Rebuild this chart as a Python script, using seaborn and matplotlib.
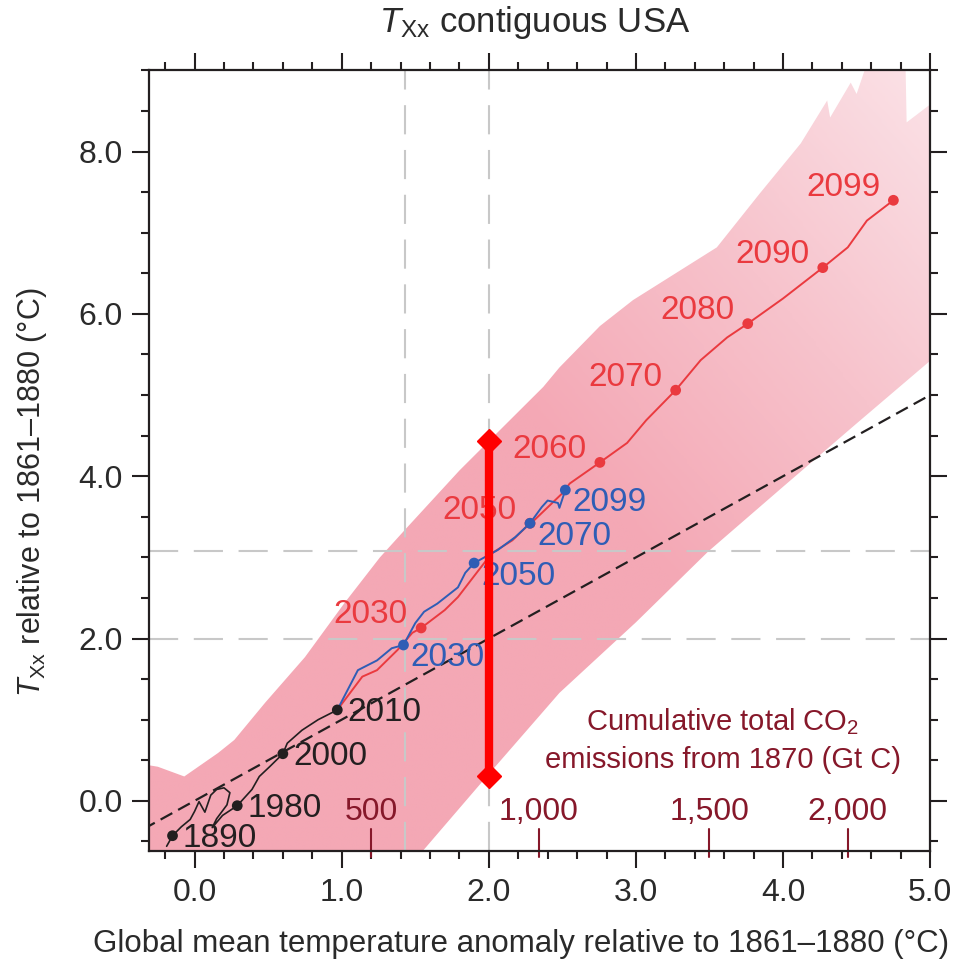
import numpy as np
import pandas as pd
import matplotlib.pyplot as plt
import seaborn as sns
from matplotlib.patches import Polygon
from matplotlib.ticker import MultipleLocator
from matplotlib.colors import LinearSegmentedColormap

sns.set_style('ticks')
plt.rcParams['font.family'] = ['Liberation Sans', 'DejaVu Sans']
plt.rcParams['mathtext.fontset'] = 'custom'
plt.rcParams['mathtext.rm'] = 'Liberation Sans'
plt.rcParams['mathtext.it'] = 'Liberation Sans:italic'

# ---- data ----
# model spread (shaded band)
band_upper_x = [-0.35, -0.25, -0.07, 0.16, 0.27, 0.48, 0.75, 1.02, 1.26, 1.43, 1.80, 2.01, 2.37,
                2.48, 2.755, 2.98, 3.55, 3.84, 4.12, 4.30, 4.32, 4.46, 4.50, 4.61, 4.83, 4.84, 5.05]
band_upper_y = [0.45, 0.42, 0.30, 0.59, 0.75, 1.21, 1.77, 2.44, 3.00, 3.34, 4.07, 4.45, 5.10,
                5.34, 5.85, 6.17, 6.82, 7.48, 8.10, 8.63, 8.42, 8.85, 8.71, 9.30, 9.30, 8.36, 8.65]
band_lower_x = [-0.35, 1.45, 1.55, 2.00, 2.48, 3.00, 3.49, 4.00, 4.50, 5.05]
band_lower_y = [-1.00, -0.85, -0.62, 0.33, 1.33, 2.20, 3.07, 3.87, 4.65, 5.50]

# observed / historical (black)
hist_x = [-0.19, -0.15, -0.09, -0.03, 0.00, 0.03, 0.07, 0.11, 0.15, 0.20, 0.24, 0.22, 0.15,
          0.12, 0.19, 0.29, 0.39, 0.44, 0.51, 0.60, 0.63, 0.73, 0.84, 0.97]
hist_y = [-0.56, -0.43, -0.32, -0.23, -0.13, -0.01, -0.14, 0.07, 0.14, 0.16, 0.10, -0.05, -0.22,
          -0.33, -0.18, -0.06, 0.14, 0.30, 0.42, 0.58, 0.71, 0.87, 1.00, 1.12]
hist_years = ['1890', '1980', '2000', '2010']
hist_mark_x = [-0.15, 0.29, 0.60, 0.97]
hist_mark_y = [-0.43, -0.06, 0.58, 1.12]

# high-emission scenario (red)
red_x = [0.97, 1.14, 1.24, 1.38, 1.48, 1.54, 1.70, 1.79, 1.93, 2.02, 2.16, 2.28, 2.31, 2.50,
         2.55, 2.755, 2.94, 3.07, 3.27, 3.44, 3.62, 3.76, 4.00, 4.27, 4.44, 4.57, 4.75]
red_y = [1.12, 1.53, 1.61, 1.86, 2.07, 2.13, 2.35, 2.51, 2.84, 3.05, 3.21, 3.42, 3.46, 3.79,
         3.91, 4.17, 4.41, 4.69, 5.06, 5.43, 5.71, 5.88, 6.19, 6.57, 6.82, 7.15, 7.40]
red_years = ['2030', '2050', '2060', '2070', '2080', '2090', '2099']
red_mark_x = [1.54, 2.28, 2.755, 3.27, 3.76, 4.27, 4.75]
red_mark_y = [2.13, 3.42, 4.17, 5.06, 5.88, 6.57, 7.40]

# low-emission scenario (blue)
blue_x = [0.97, 1.11, 1.24, 1.34, 1.42, 1.50, 1.56, 1.65, 1.79, 1.84, 1.90, 2.06, 2.18, 2.28,
          2.36, 2.40, 2.47, 2.48, 2.52]
blue_y = [1.12, 1.61, 1.73, 1.88, 1.92, 2.19, 2.33, 2.43, 2.63, 2.81, 2.93, 3.09, 3.25, 3.42,
          3.62, 3.70, 3.67, 3.61, 3.83]
blue_years = ['2030', '2050', '2070', '2099']
blue_mark_x = [1.42, 1.90, 2.28, 2.52]
blue_mark_y = [1.92, 2.93, 3.42, 3.83]

# 1:1 reference, grey guide lines, red range bar
one_to_one = [-0.35, 5.05]
guide_vx = [1.43, 2.0]
guide_hy = [2.0, 3.08]
bar_x = [2.0, 2.0]
bar_y = [0.31, 4.43]

# cumulative CO2 scale
co2_vals = [500, 1000, 1500, 2000]
co2_pos = [1.20, 2.34, 3.50, 4.44]

RED = '#ea3a3f'
BLUE = '#2f5db5'
BLACK = '#231f20'
CO2C = '#86182a'
TXT = '#2a2a2a'

fig = plt.figure(figsize=(9.55, 9.65), dpi=100)
ax = fig.add_axes([0.156, 0.118, 0.818, 0.809])

# shaded band with a soft gradient
verts = list(zip(band_upper_x, band_upper_y)) + list(zip(band_lower_x[::-1], band_lower_y[::-1]))
patch = Polygon(verts, closed=True, facecolor='none', edgecolor='none', transform=ax.transData)
ax.add_patch(patch)
gx, gy = np.meshgrid(np.linspace(-0.35, 5.05, 300), np.linspace(-1.0, 9.3, 300))
t = np.clip(0.55 * (gx - 2.4) / 2.6 + 0.45 * (gy - 4.5) / 4.5, 0, 1)
cmap = LinearSegmentedColormap.from_list('band', ['#f4a8b5', '#f7c3cc', '#fbe2e7'])
im = ax.imshow(t, extent=(-0.35, 5.05, -1.0, 9.3), origin='lower', aspect='auto',
               cmap=cmap, vmin=0, vmax=1, zorder=1)
im.set_clip_path(patch)

# grey guide lines
for gxv in guide_vx:
    ax.axvline(gxv, color='#c8c8c8', lw=1.5, dashes=(14, 7.5), zorder=2)
for gyv in guide_hy:
    ax.axhline(gyv, color='#c8c8c8', lw=1.5, dashes=(14, 7.5), zorder=2)

# 1:1 line
ax.plot(one_to_one, one_to_one, color=BLACK, lw=1.6, dashes=(6, 3), zorder=3)

# scenario lines
sns.lineplot(x=hist_x, y=hist_y, sort=False, estimator=None, color=BLACK, lw=1.2, ax=ax, zorder=4)
sns.lineplot(x=red_x, y=red_y, sort=False, estimator=None, color=RED, lw=1.4, ax=ax, zorder=4)
sns.lineplot(x=blue_x, y=blue_y, sort=False, estimator=None, color=BLUE, lw=1.4, ax=ax, zorder=5)

sns.scatterplot(x=hist_mark_x, y=hist_mark_y, color=BLACK, s=60, edgecolor='none', ax=ax, zorder=6)
sns.scatterplot(x=red_mark_x, y=red_mark_y, color=RED, s=60, edgecolor='none', ax=ax, zorder=6)
sns.scatterplot(x=blue_mark_x, y=blue_mark_y, color=BLUE, s=60, edgecolor='none', ax=ax, zorder=7)

# year labels
for yr, x, y in zip(hist_years, hist_mark_x, hist_mark_y):
    ax.text(x + 0.07, y - 0.03, yr, color=BLACK, fontsize=24, ha='left', va='center', zorder=8)
for yr, x, y in zip(red_years, red_mark_x, red_mark_y):
    ax.text(x - 0.09, y + 0.16, yr, color=RED, fontsize=24, ha='right', va='center', zorder=8)
for yr, x, y in zip(blue_years, blue_mark_x, blue_mark_y):
    ax.text(x + 0.05, y - 0.16, yr, color=BLUE, fontsize=24, ha='left', va='center', zorder=8)

# red range bar
ax.plot(bar_x, bar_y, color='#ff0000', lw=6, marker='D', markersize=12, zorder=9)

# CO2 scale
for v, p in zip(co2_vals, co2_pos):
    ax.axvline(p, ymin=-0.008, ymax=0.028, color=CO2C, lw=1.5, clip_on=False, zorder=10)
    ax.text(p, -0.14, f'{v:,}', color=CO2C, fontsize=23, ha='center', va='center', zorder=8)
ax.text(3.59, 0.97, 'Cumulative total CO$_2$', color=CO2C, fontsize=21, ha='center', va='center')
ax.text(3.59, 0.50, 'emissions from 1870 (Gt C)', color=CO2C, fontsize=21, ha='center', va='center')

ax.set_xlim(-0.31, 5.0)
ax.set_ylim(-0.62, 9.0)
ax.set_xticks([0, 1, 2, 3, 4, 5])
ax.set_xticklabels(['0.0', '1.0', '2.0', '3.0', '4.0', '5.0'])
ax.set_yticks([0, 2, 4, 6, 8])
ax.set_yticklabels(['0.0', '2.0', '4.0', '6.0', '8.0'])
ax.xaxis.set_minor_locator(MultipleLocator(0.2))
ax.yaxis.set_minor_locator(MultipleLocator(0.5))
ax.tick_params(which='both', direction='out', top=True, right=True, width=1.5,
               color=BLACK, labelsize=23, labelcolor=TXT)
ax.tick_params(which='major', length=12, pad=7)
ax.tick_params(which='minor', length=6)
for sp in ax.spines.values():
    sp.set_linewidth(1.6)
    sp.set_color(BLACK)
    sp.set_zorder(11)

ax.set_xlabel('Global mean temperature anomaly relative to 1861\u20131880 (\u00b0C)', fontsize=22.5,
              color=TXT)
ax.xaxis.set_label_coords(0.476, -0.100)
ax.set_ylabel(r'$T_{\rm Xx}$' + ' relative to 1861\u20131880 (\u00b0C)', fontsize=22, color=TXT)
ax.yaxis.set_label_coords(-0.128, 0.46)
fig.text(0.56, 0.977, r'$T_{\rm Xx}$ contiguous USA', fontsize=25, color=TXT,
         ha='center', va='center')

fig.savefig('out.png', dpi=100)
